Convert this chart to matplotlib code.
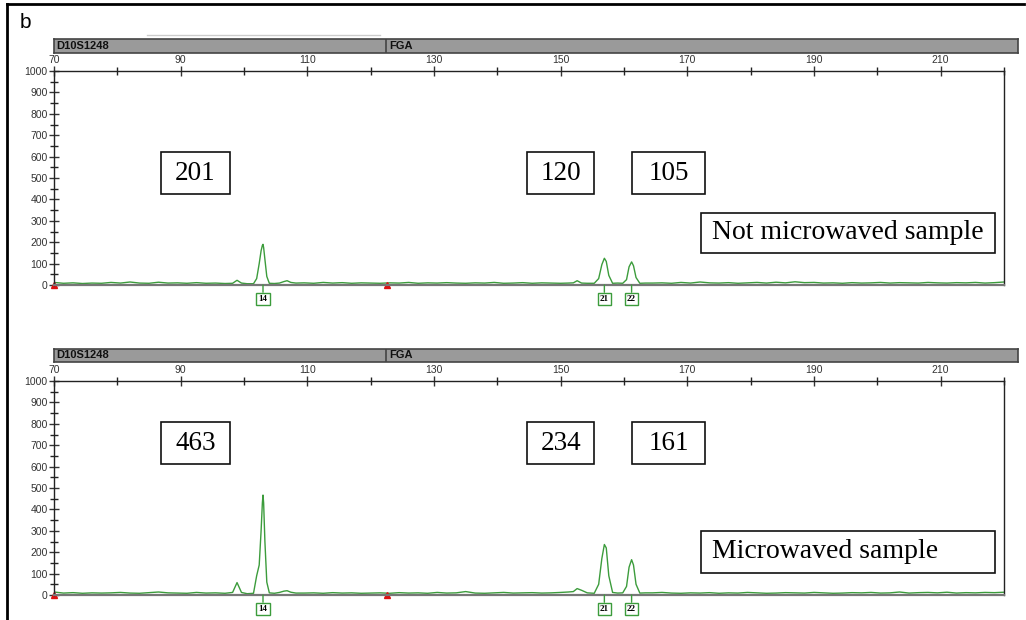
import numpy as np
import matplotlib.pyplot as plt
from matplotlib.patches import Rectangle
from matplotlib.ticker import MultipleLocator

x_pb = [70, 71.5, 73, 74.5, 76, 77.5, 79, 80.5, 82, 83.5, 85, 86.5, 88, 89.5, 91, 92.5, 94, 95.5, 97,
        98.2, 98.9, 99.6, 100.5, 101.5, 102.0, 102.4, 102.7, 102.9, 103.0, 103.1, 103.3, 103.6, 104.0,
        104.8, 105.6, 106.3, 106.8, 107.4, 108.2,
        109.5, 111, 112.5, 114, 115.5, 117, 118.5, 120, 121.5, 123, 124.5, 126, 127.5, 129, 130.5, 132,
        133.5, 135, 136.5, 138, 139.5, 141, 142.5, 144, 145.5, 147, 148.5, 150, 151.2,
        152.0, 152.6, 153.3, 154.2, 155.3, 156.0, 156.5, 156.9, 157.2, 157.6, 158.2, 159.0, 159.8,
        160.4, 160.8, 161.2, 161.5, 161.9, 162.5, 163.4,
        164.5, 166, 167.5, 169, 170.5, 172, 173.5, 175, 176.5, 178, 179.5, 181, 182.5, 184, 185.5, 187,
        188.5, 190, 191.5, 193, 194.5, 196, 197.5, 199, 200.5, 202, 203.5, 205, 206.5, 208, 209.5, 211,
        212.5, 214, 215.5, 217, 218.5, 220]

rfu_no_micro = [12, 8, 10, 7, 9, 8, 12, 9, 14, 9, 8, 13, 9, 10, 8, 11, 8, 9, 7,
                8, 22, 9, 6, 6, 30, 100, 160, 185, 190, 175, 120, 40, 8,
                7, 9, 16, 20, 12, 9,
                10, 8, 12, 9, 11, 8, 10, 9, 8, 10, 9, 12, 8, 10, 9, 11,
                9, 8, 10, 9, 12, 8, 9, 11, 8, 10, 9, 8, 9,
                10, 20, 9, 8, 8, 30, 95, 125, 110, 45, 8, 9, 8,
                25, 85, 108, 90, 35, 8, 9,
                9, 10, 8, 12, 9, 14, 10, 9, 11, 8, 10, 12, 9, 13, 10, 15,
                11, 12, 9, 10, 8, 11, 9, 10, 12, 9, 11, 10, 9, 12, 10, 9,
                11, 10, 12, 9, 11, 14]

rfu_micro = [14, 9, 11, 8, 10, 9, 10, 12, 9, 8, 11, 14, 10, 9, 8, 12, 9, 10, 8,
             12, 58, 12, 6, 8, 90, 140, 300, 430, 467, 430, 250, 60, 10,
             8, 12, 18, 20, 13, 9,
             9, 10, 8, 11, 9, 10, 8, 9, 10, 8, 11, 9, 10, 8, 12, 9,
             10, 16, 9, 8, 10, 12, 9, 10, 11, 9, 10, 12, 14,
             16, 30, 22, 10, 8, 50, 170, 236, 220, 90, 12, 9, 10,
             40, 130, 165, 140, 50, 9, 10,
             10, 12, 9, 8, 10, 9, 11, 8, 10, 9, 12, 10, 8, 9, 11, 10,
             9, 12, 10, 8, 9, 11, 10, 12, 9, 10, 14, 9, 11, 12, 10, 13,
             9, 11, 10, 12, 11, 13]

alelos = ['14', '21', '22']
pos_alelos = [103.0, 156.9, 161.2]
alturas_no_micro = ['201', '120', '105']
alturas_micro = ['463', '234', '161']
marcadores = ['D10S1248', 'FGA']
inicio_marcadores = [70, 122.5]

verde = '#3c9c3c'

fig = plt.figure(figsize=(10.26, 6.2), dpi=100)
W, H = 1026, 620


def fx(px):
    return px / W


def fy(py):
    return 1 - py / H


def panel(top_px, bot_px, bar_top, bar_bot, y, alturas, caja_y, texto, caja_txt_y):
    # barra gris de marcadores
    axb = fig.add_axes([fx(54), fy(bar_bot), fx(1018 - 54), (bar_bot - bar_top) / H])
    axb.set_xlim(70, 70 + (1018 - 54) / 6.333)
    axb.set_ylim(0, 1)
    axb.set_facecolor('#9a9a9a')
    for s in axb.spines.values():
        s.set_color('#444444')
        s.set_linewidth(1.2)
    axb.set_xticks([])
    axb.set_yticks([])
    for nombre, x0 in zip(marcadores, inicio_marcadores):
        if x0 > 70:
            axb.axvline(x0, color='#444444', lw=1.2)
        axb.text(x0 + 0.4, 0.5, nombre, fontsize=8, fontweight='bold', va='center',
                 ha='left', family='Liberation Sans', color='#111111')

    ax = fig.add_axes([fx(54), fy(bot_px), fx(1004 - 54), (bot_px - top_px) / H])
    ax.plot(x_pb, y, color=verde, lw=1)
    ax.set_xlim(70, 220)
    ax.set_ylim(0, 1000)
    ax.xaxis.tick_top()
    ax.set_xticks([70, 90, 110, 130, 150, 170, 190, 210])
    ax.xaxis.set_minor_locator(MultipleLocator(10))
    ax.yaxis.set_major_locator(MultipleLocator(100))
    ax.yaxis.set_minor_locator(MultipleLocator(50))
    ax.tick_params(axis='both', which='major', direction='inout', length=7, width=1,
                   labelsize=7.5, colors='#333333', pad=1)
    ax.tick_params(axis='both', which='minor', direction='inout', length=6, width=1, color='#222222')
    for lab in ax.get_xticklabels() + ax.get_yticklabels():
        lab.set_family('Liberation Sans')
    ax.spines['bottom'].set_color('#777777')
    ax.spines['bottom'].set_linewidth(1.6)
    for s in ['top', 'left', 'right']:
        ax.spines[s].set_color('#222222')
        ax.spines[s].set_linewidth(1)

    # triangulos rojos
    ax.plot(inicio_marcadores, [0, 0], marker='^', color='#dd1111', ls='none', ms=4, clip_on=False)

    # etiquetas de alelos
    for a, xa in zip(alelos, pos_alelos):
        ax.annotate(a, xy=(xa, 0), xytext=(0, -14), textcoords='offset pixels',
                    ha='center', va='center', fontsize=6.5, fontweight='bold',
                    family='Liberation Serif',
                    bbox=dict(boxstyle='square,pad=0.25', fc='white', ec=verde, lw=1),
                    arrowprops=dict(arrowstyle='-', color=verde, lw=1, shrinkA=0, shrinkB=0),
                    annotation_clip=False)

    # cajas con alturas
    cajas_x = [(86.9, 97.8), (144.7, 155.3), (161.3, 172.8)]
    for (x0, x1), t in zip(cajas_x, alturas):
        ax.add_patch(Rectangle((x0, caja_y[0]), x1 - x0, caja_y[1] - caja_y[0],
                               fill=False, ec='#111111', lw=1.2, clip_on=False))
        ax.text((x0 + x1) / 2, (caja_y[0] + caja_y[1]) / 2, t, ha='center', va='center',
                fontsize=19.5, family='Liberation Serif')
    ax.add_patch(Rectangle((172.1, caja_txt_y[0]), 218.5 - 172.1, caja_txt_y[1] - caja_txt_y[0],
                           fill=False, ec='#111111', lw=1.2, clip_on=False))
    ax.text(173.9, (caja_txt_y[0] + caja_txt_y[1]) / 2, texto, ha='left', va='center',
            fontsize=20, family='Liberation Serif')
    return ax


panel(71, 285, 39, 53, rfu_no_micro, alturas_no_micro, (423, 620), 'Not microwaved sample', (150, 338))
panel(381, 595, 349, 362, rfu_micro, alturas_micro, (612, 808), 'Microwaved sample', (103, 299))

# marco exterior y letra del panel
fig.add_artist(plt.Line2D([fx(7), fx(1024)], [fy(4), fy(4)], color='black', lw=2))
fig.add_artist(plt.Line2D([fx(7), fx(7)], [fy(4), fy(620)], color='black', lw=2))
fig.add_artist(plt.Line2D([fx(147), fx(380)], [fy(35), fy(35)], color='#cccccc', lw=1))
fig.text(fx(20), fy(28), 'b', fontsize=15, family='Liberation Sans', va='baseline')

fig.savefig('out.png', dpi=100)
